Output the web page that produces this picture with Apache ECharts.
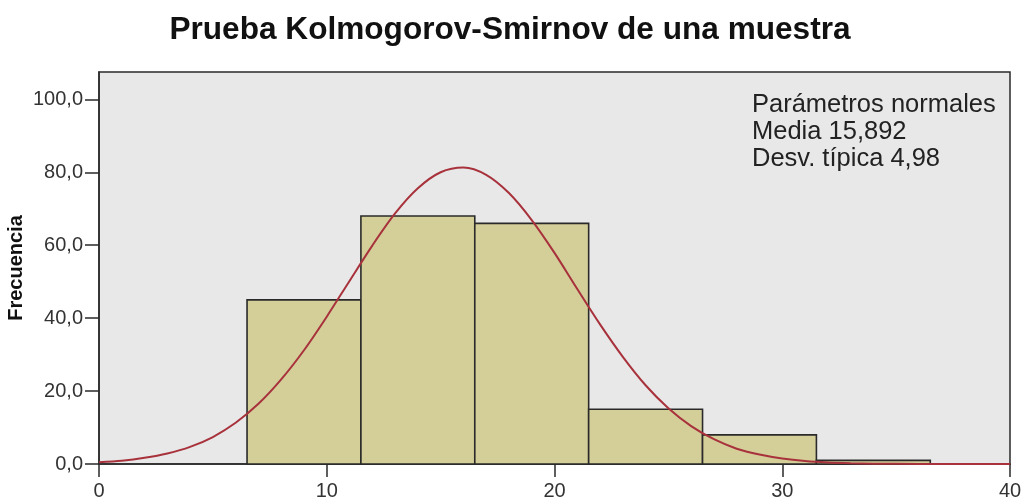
<!DOCTYPE html>
<html>
<head>
<meta charset="utf-8">
<script src="https://cdn.jsdelivr.net/npm/echarts@6/dist/echarts.min.js"></script>
<style>
  html, body { margin: 0; padding: 0; background: #fff; }
  #grafico { width: 1023px; height: 503px; }
</style>
</head>
<body>
<div id="grafico"></div>
<script>
// histograma: limites de cada intervalo y frecuencia
var binInicio = [6.5, 11.5, 16.5, 21.5, 26.5, 31.5];
var binFin    = [11.5, 16.5, 21.5, 26.5, 31.5, 36.5];
var frecuencias = [45, 68, 66, 15, 8, 1];

// curva normal (x, frecuencia)
var curvaX = [0, 1, 2, 3, 4, 5, 6, 7, 8, 9, 10, 11, 12, 13, 14, 15, 16, 17, 18, 19, 20,
              21, 22, 23, 24, 25, 26, 27, 28, 29, 30, 31, 32, 33, 34, 36, 38, 40];
var curvaY = [0.5, 0.9, 1.7, 2.9, 4.7, 7.4, 11.3, 16.5, 23.2, 31.2, 40.4, 50.2, 59.9, 68.7, 75.6, 80.0, 81.3, 79.3, 74.3, 66.9, 57.9,
              48.0, 38.3, 29.4, 21.6, 15.3, 10.4, 6.8, 4.2, 2.6, 1.5, 0.8, 0.4, 0.2, 0.1, 0.02, 0, 0];

var ticksX = [0, 10, 20, 30, 40];
var ticksY = [0, 20, 40, 60, 80, 100];

var fuente = '"Liberation Sans", Arial, sans-serif';

var datosBarras = [];
for (var i = 0; i < frecuencias.length; i++) {
  datosBarras.push([binInicio[i], binFin[i], frecuencias[i]]);
}
var datosCurva = [];
for (var j = 0; j < curvaX.length; j++) {
  datosCurva.push([curvaX[j], curvaY[j]]);
}

function dibujarBarra(params, api) {
  var p0 = api.coord([api.value(0), api.value(2)]);
  var p1 = api.coord([api.value(1), 0]);
  return {
    type: 'rect',
    shape: { x: p0[0], y: p0[1], width: p1[0] - p0[0], height: p1[1] - p0[1] },
    style: { fill: '#d4ce99', stroke: '#2a2a2a', lineWidth: 1.6 }
  };
}

var myChart = echarts.init(document.getElementById('grafico'));
myChart.setOption({
  animation: false,
  backgroundColor: '#ffffff',
  title: {
    text: 'Prueba Kolmogorov-Smirnov de una muestra',
    left: 505,
    textAlign: 'center',
    top: 9,
    textStyle: { fontFamily: fuente, fontSize: 31.6, fontWeight: 'bold', color: '#111' }
  },
  grid: {
    left: 99, right: 13, top: 72, bottom: 39,
    outerBoundsMode: 'none',
    containLabel: false,
    show: true,
    backgroundColor: '#e8e8e8',
    borderColor: '#2a2a2a',
    borderWidth: 1.5
  },
  xAxis: {
    type: 'value',
    min: 0, max: 40, interval: 10,
    axisLine: { show: true, lineStyle: { color: '#2a2a2a', width: 1.5 } },
    axisTick: { show: true, length: 13, lineStyle: { color: '#2a2a2a', width: 1.5 }, customValues: ticksX },
    axisLabel: { customValues: ticksX, margin: 17, fontFamily: fuente, fontSize: 20, color: '#333' },
    splitLine: { show: false }
  },
  yAxis: {
    type: 'value',
    min: 0, max: 107.5,
    name: 'Frecuencia',
    nameLocation: 'middle',
    nameGap: 73,
    nameMoveOverlap: false,
    nameTextStyle: { fontFamily: fuente, fontSize: 20, fontWeight: 'bold', color: '#111' },
    axisLine: { show: true, lineStyle: { color: '#2a2a2a', width: 1.5 } },
    axisTick: { show: true, length: 14, lineStyle: { color: '#2a2a2a', width: 1.5 }, customValues: ticksY },
    axisLabel: {
      customValues: ticksY, margin: 16, fontFamily: fuente, fontSize: 20, color: '#333',
      formatter: function (v) { return v.toFixed(1).replace('.', ','); }
    },
    splitLine: { show: false }
  },
  graphic: [{
    type: 'text',
    left: 752,
    top: 91,
    style: {
      text: 'Parámetros normales\nMedia 15,892\nDesv. típica 4,98',
      font: '25.5px ' + fuente,
      lineHeight: 27,
      fill: '#222'
    }
  }],
  series: [
    {
      type: 'custom',
      renderItem: dibujarBarra,
      encode: { x: [0, 1], y: 2 },
      data: datosBarras,
      z: 2
    },
    {
      type: 'line',
      data: datosCurva,
      smooth: 0.3,
      showSymbol: false,
      lineStyle: { color: '#a8323c', width: 2 },
      z: 3
    }
  ]
});
</script>
</body>
</html>
